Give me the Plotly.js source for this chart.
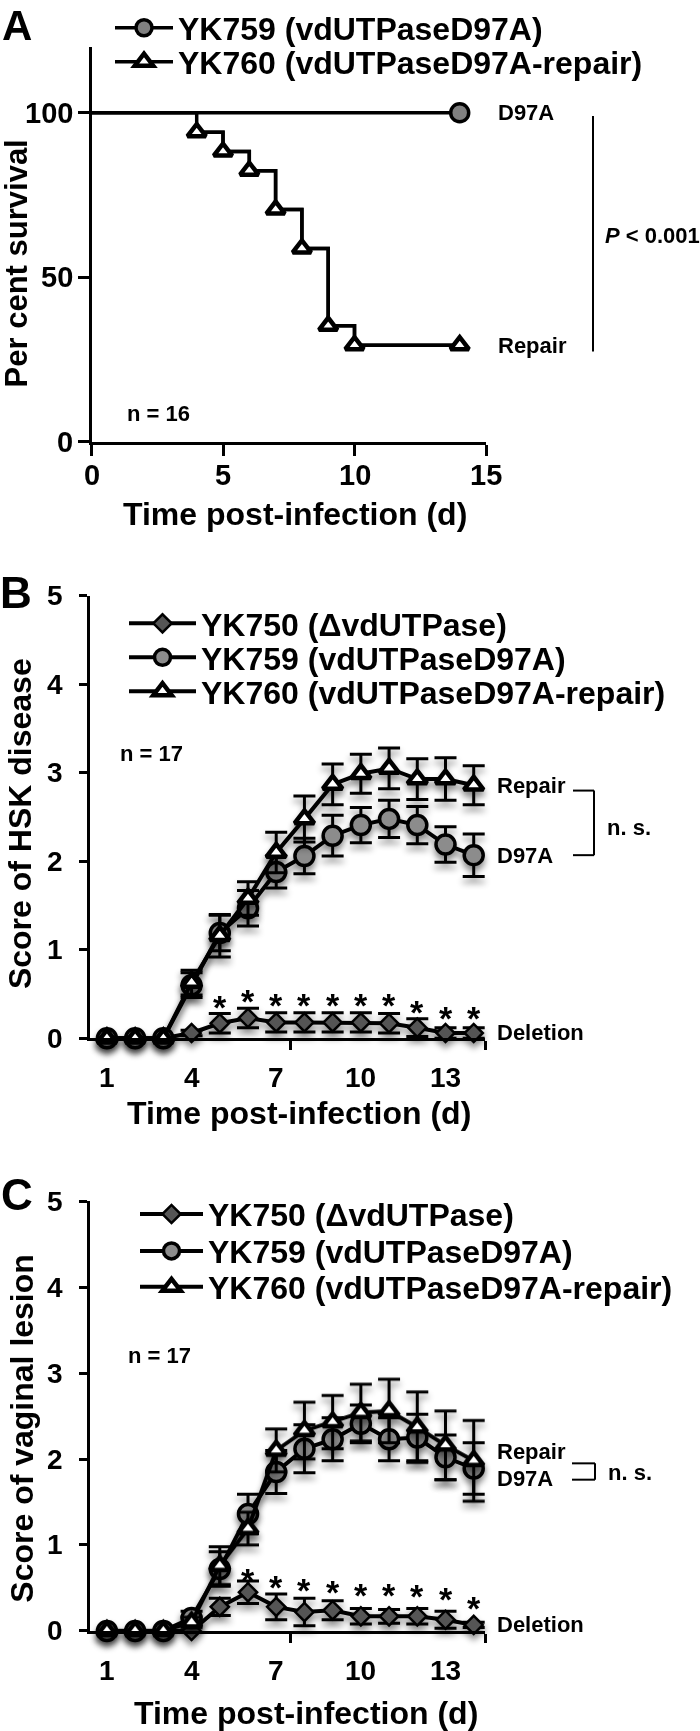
<!DOCTYPE html>
<html>
<head>
<meta charset="utf-8">
<script src="https://cdn.plot.ly/plotly-3.0.1.min.js"></script>
<style>
html,body{margin:0;padding:0;background:#fff;}
#chart{width:700px;height:1731px;}
.subplot.x2y2 .scatterlayer .trace, .subplot.x3y3 .scatterlayer .trace{filter:drop-shadow(0px 5px 3px rgba(0,0,0,0.45));}
</style>
</head>
<body>
<div id="chart"></div>
<script>
// ---------------- DATA ----------------
// Panel A: Kaplan-Meier survival (per cent)
const survRepairDays = [0, 4, 5, 6, 7, 8, 9, 10, 14];
const survRepair     = [100, 94.1, 88.2, 82.4, 70.6, 58.8, 35.3, 29.4, 29.4];
const survD97ADays   = [0, 14];
const survD97A       = [100, 100];
const survTickX      = [0, 5, 10, 15];
const survTickY      = [0, 50, 100];

// Panels B and C: days post-infection
const days = [1, 2, 3, 4, 5, 6, 7, 8, 9, 10, 11, 12, 13, 14];
const scoreTickX = [1, 4, 7, 10, 13];
const scoreTickY = [0, 1, 2, 3, 4, 5];

// Panel B: HSK disease score (mean, SEM)
const hskDeletion    = [0, 0, 0, 0.06, 0.17, 0.23, 0.18, 0.18, 0.18, 0.18, 0.17, 0.12, 0.06, 0.06];
const hskDeletionSem = [0, 0, 0, 0.03, 0.11, 0.11, 0.11, 0.11, 0.11, 0.11, 0.11, 0.10, 0.06, 0.06];
const hskD97A        = [0, 0, 0, 0.60, 1.19, 1.47, 1.88, 2.06, 2.29, 2.41, 2.48, 2.41, 2.19, 2.07];
const hskD97ASem     = [0, 0, 0, 0.14, 0.20, 0.20, 0.18, 0.20, 0.23, 0.20, 0.21, 0.21, 0.20, 0.24];
const hskRepair      = [0, 0, 0, 0.63, 1.16, 1.58, 2.10, 2.48, 2.87, 2.99, 3.05, 2.93, 2.93, 2.86];
const hskRepairSem   = [0, 0, 0, 0.14, 0.24, 0.19, 0.23, 0.26, 0.23, 0.22, 0.23, 0.23, 0.24, 0.22];
const hskStarDays    = [5, 6, 7, 8, 9, 10, 11, 12, 13, 14];
const hskStarY       = [0.44, 0.51, 0.47, 0.47, 0.47, 0.47, 0.47, 0.39, 0.32, 0.32];

// Panel C: vaginal lesion score (mean, SEM)
const vagDeletion    = [0, 0, 0, 0, 0.28, 0.45, 0.28, 0.22, 0.24, 0.17, 0.17, 0.17, 0.13, 0.07];
const vagDeletionSem = [0, 0, 0, 0, 0.10, 0.13, 0.15, 0.16, 0.11, 0.09, 0.08, 0.09, 0.10, 0.03];
const vagD97A        = [0, 0, 0, 0.15, 0.72, 1.36, 1.85, 2.12, 2.23, 2.41, 2.23, 2.25, 2.02, 1.89];
const vagD97ASem     = [0, 0, 0, 0.08, 0.20, 0.23, 0.25, 0.28, 0.25, 0.22, 0.25, 0.27, 0.26, 0.30];
const vagRepair      = [0, 0, 0, 0.10, 0.76, 1.19, 2.10, 2.33, 2.43, 2.54, 2.56, 2.37, 2.16, 1.98];
const vagRepairSem   = [0, 0, 0, 0.06, 0.22, 0.19, 0.25, 0.33, 0.31, 0.33, 0.37, 0.41, 0.40, 0.47];
const vagStarDays    = [6, 7, 8, 9, 10, 11, 12, 13, 14];
const vagStarY       = [0.69, 0.61, 0.57, 0.55, 0.51, 0.51, 0.50, 0.47, 0.36];

// Legend / label texts
const nameDeletion = 'YK750 (ΔvdUTPase)';
const nameD97A     = 'YK759 (vdUTPaseD97A)';
const nameRepair   = 'YK760 (vdUTPaseD97A-repair)';

// ---------------- STYLE HELPERS ----------------
const FONT = 'Liberation Sans, Arial, Helvetica, sans-serif';
const W = 700, H = 1731;
const px = x => x / W;
const py = y => 1 - y / H;
const errArr = a => a.map(v => v > 0 ? v : NaN);

const mkDel = {symbol: 'diamond', size: 14, color: '#555555', opacity: 1, line: {color: '#000', width: 2.5}};
const mkD97A = {symbol: 'circle', size: 19, color: '#8c8c8c', opacity: 1, line: {color: '#000', width: 3.5}};
const mkRep = {symbol: 'triangle-up', size: 17, color: '#ffffff', opacity: 1, line: {color: '#000', width: 4.5}};

function series(x, y, sem, name, marker, ax, legend) {
  return {
    type: 'scatter', mode: 'lines+markers', x: x, y: y, name: name,
    xaxis: 'x' + ax, yaxis: 'y' + ax, legend: legend, cliponaxis: false,
    line: {color: '#000', width: 4}, marker: marker,
    error_y: {type: 'data', array: errArr(sem), visible: true, color: '#000', thickness: 3, width: 11},
    hoverinfo: 'skip'
  };
}

const mkSurvCircle = {symbol: 'circle', size: 18, color: '#808080', opacity: 1, line: {color: '#000', width: 3.5}};
const mkSurvTri = {symbol: 'triangle-up', size: 16, color: '#ffffff', opacity: 1, line: {color: '#000', width: 4.5}};

const traces = [
  // Panel A: full step curves (no legend entry)
  {type: 'scatter', mode: 'lines', x: survD97ADays, y: survD97A, showlegend: false, cliponaxis: false,
   line: {color: '#000', width: 3.5}, hoverinfo: 'skip'},
  {type: 'scatter', mode: 'lines', x: survRepairDays, y: survRepair, showlegend: false, cliponaxis: false,
   line: {color: '#000', width: 3.5, shape: 'hv'}, hoverinfo: 'skip'},
  // Panel A: event / censor markers (carry the legend entries)
  {type: 'scatter', mode: 'lines+markers', x: survD97ADays.slice(1), y: survD97A.slice(1), name: nameD97A,
   legend: 'legend', cliponaxis: false, line: {color: '#000', width: 3.5}, marker: mkSurvCircle, hoverinfo: 'skip'},
  {type: 'scatter', mode: 'lines+markers', x: survRepairDays.slice(1), y: survRepair.slice(1), name: nameRepair,
   legend: 'legend2', cliponaxis: false, line: {color: '#000', width: 3.5, shape: 'hv'}, marker: mkSurvTri, hoverinfo: 'skip'},
  // Panel B
  series(days, hskDeletion, hskDeletionSem, nameDeletion, mkDel, 2, 'legend3'),
  series(days, hskD97A, hskD97ASem, nameD97A, mkD97A, 2, 'legend4'),
  series(days, hskRepair, hskRepairSem, nameRepair, mkRep, 2, 'legend5'),
  // Panel C
  series(days, vagDeletion, vagDeletionSem, nameDeletion, mkDel, 3, 'legend6'),
  series(days, vagD97A, vagD97ASem, nameD97A, mkD97A, 3, 'legend7'),
  series(days, vagRepair, vagRepairSem, nameRepair, mkRep, 3, 'legend8'),
];

function legendAt(left, rowY, size, itemwidth) {
  return {x: px(left), y: py(rowY), xanchor: 'left', yanchor: 'middle', bgcolor: 'rgba(0,0,0,0)',
          borderwidth: 0, font: {family: FONT, size: size, weight: 'bold', color: '#000'},
          itemwidth: itemwidth, itemclick: false, itemdoubleclick: false};
}

function axis(extra) {
  return Object.assign({showline: true, linewidth: 3, linecolor: '#000', showgrid: false, zeroline: false,
    tickcolor: '#000', tickwidth: 3, fixedrange: true, automargin: false, showticklabels: false}, extra);
}

function ann(text, x, y, size, opts) {
  return Object.assign({text: text, x: px(x), y: py(y), xref: 'paper', yref: 'paper', showarrow: false,
    xanchor: 'center', yanchor: 'middle', font: {family: FONT, size: size, weight: 'bold', color: '#000'}}, opts || {});
}
function dataLabel(text, x, yVal, ax, yshift) {
  return {text: text, x: px(x), y: yVal, xref: 'paper', yref: 'y' + ax, showarrow: false,
    xanchor: 'left', yanchor: 'middle', yshift: yshift || 0,
    font: {family: FONT, size: 22, weight: 'bold', color: '#000'}};
}
function stars(dayArr, yArr, ax) {
  return dayArr.map((d, i) => ({text: '*', x: d, y: yArr[i], xref: 'x' + ax, yref: 'y' + ax, showarrow: false,
    xanchor: 'center', yanchor: 'middle', yshift: -8, font: {family: FONT, size: 34, weight: 'bold', color: '#000'}}));
}
// tick labels placed through the axis scales
function xTickLabels(vals, ax, yPx, size) {
  return vals.map(v => ({text: String(v), x: v, xref: 'x' + ax, y: py(yPx), yref: 'paper', showarrow: false,
    xanchor: 'center', yanchor: 'middle', font: {family: FONT, size: size, weight: 'bold', color: '#000'}}));
}
function yTickLabels(vals, ax, xRightPx, size) {
  return vals.map(v => ({text: String(v), x: px(xRightPx), xref: 'paper', y: v, yref: 'y' + ax, showarrow: false,
    xanchor: 'right', yanchor: 'middle', font: {family: FONT, size: size, weight: 'bold', color: '#000'}}));
}
function line(x0, y0, x1, y1, yref) {
  return {type: 'line', xref: 'paper', yref: yref, x0: px(x0), x1: px(x1), y0: y0, y1: y1,
          line: {color: '#000', width: 2}};
}

const last = a => a[a.length - 1];

const layout = {
  width: W, height: H, margin: {l: 0, r: 0, t: 0, b: 0},
  paper_bgcolor: '#fff', plot_bgcolor: 'rgba(0,0,0,0)',
  font: {family: FONT, size: 27, weight: 'bold', color: '#000'},
  // Panel A axes
  xaxis: axis({domain: [px(91.5), px(486)], range: [0, 15], tickvals: survTickX,
          ticks: 'outside', ticklen: 11, anchor: 'y'}),
  yaxis: axis({domain: [py(439), py(43)], range: [0, 120], tickvals: survTickY,
          ticks: 'outside', ticklen: 11, anchor: 'x'}),
  // Panel B axes
  xaxis2: axis({domain: [px(90), px(485)], range: [0.4, 14.4], tickvals: scoreTickX,
          ticks: '', ticklen: 0, anchor: 'y2',
          minor: {tickvals: [7.5, 14.4], ticks: 'outside', ticklen: 9, tickwidth: 3, tickcolor: '#000'}}),
  yaxis2: axis({domain: [py(1036.7), py(593.3)], range: [0, 5], tickvals: scoreTickY,
          ticks: 'outside', ticklen: 8, anchor: 'x2'}),
  // Panel C axes
  xaxis3: axis({domain: [px(90), px(485)], range: [0.4, 14.4], tickvals: scoreTickX,
          ticks: '', ticklen: 0, anchor: 'y3',
          minor: {tickvals: [7.5, 14.4], ticks: 'outside', ticklen: 9, tickwidth: 3, tickcolor: '#000'}}),
  yaxis3: axis({domain: [py(1630.7), py(1200)], range: [0, 5], tickvals: scoreTickY,
          ticks: 'outside', ticklen: 8, anchor: 'x3'}),
  // legends, one per series
  legend:  legendAt(110, 24, 32, 58),
  legend2: legendAt(110, 58, 32, 58),
  legend3: legendAt(124, 621, 32, 67),
  legend4: legendAt(124, 655, 32, 67),
  legend5: legendAt(124, 689, 32, 67),
  legend6: legendAt(135, 1213, 32, 63),
  legend7: legendAt(135, 1250, 32, 63),
  legend8: legendAt(135, 1286, 32, 63),
  annotations: [
    ann('A', 17, 22, 42), ann('B', 16, 590, 44), ann('C', 17, 1193, 44),
    // axis titles
    ann('Per cent survival', 16, 260, 31, {textangle: -90}),
    ann('Time post-infection (d)', 295, 511, 32),
    ann('Score of HSK disease', 20, 822, 32, {textangle: -90}),
    ann('Time post-infection (d)', 299, 1112, 32),
    ann('Score of vaginal lesion', 22, 1428, 32, {textangle: -90}),
    ann('Time post-infection (d)', 306, 1713, 32),
    // panel A labels
    dataLabel('D97A', 496, last(survD97A), '', 0),
    dataLabel('Repair', 496, last(survRepair), '', 0),
    ann('<i>P</i> &lt; 0.001', 603, 232, 22, {xanchor: 'left'}),
    ann('n = 16', 125, 410, 22, {xanchor: 'left'}),
    // panel B labels
    dataLabel('Repair', 495, last(hskRepair), 2, 0),
    dataLabel('D97A', 495, last(hskD97A), 2, 0),
    dataLabel('Deletion', 495, last(hskDeletion), 2, 0),
    ann('n. s.', 605, 825, 22, {xanchor: 'left'}),
    ann('n = 17', 118, 751, 22, {xanchor: 'left'}),
    // panel C labels
    dataLabel('Repair', 495, last(vagRepair), 3, 9),
    dataLabel('D97A', 495, last(vagD97A), 3, -10),
    dataLabel('Deletion', 495, last(vagDeletion), 3, 0),
    ann('n. s.', 606, 1472, 22, {xanchor: 'left'}),
    ann('n = 17', 126, 1355, 22, {xanchor: 'left'}),
  ].concat(
    xTickLabels(survTickX, '', 472, 29), yTickLabels(survTickY, '', 75, 29),
    xTickLabels(scoreTickX, 2, 1076, 28), yTickLabels(scoreTickY, 2, 65, 28),
    xTickLabels(scoreTickX, 3, 1670, 28), yTickLabels(scoreTickY, 3, 65, 28),
    stars(hskStarDays, hskStarY, 2), stars(vagStarDays, vagStarY, 3)),
  shapes: [
    // P-value bar in panel A
    line(593, 27.5, 593, 99, 'y'),
    // n.s. bracket panel B
    line(573, 2.80, 594, 2.80, 'y2'), line(594, 2.80, 594, 2.07, 'y2'), line(573, 2.07, 594, 2.07, 'y2'),
    // n.s. bracket panel C
    line(572, 1.95, 595, 1.95, 'y3'), line(595, 1.95, 595, 1.76, 'y3'), line(572, 1.76, 595, 1.76, 'y3'),
  ],
  showlegend: true
};

Plotly.newPlot('chart', traces, layout, {displayModeBar: false, staticPlot: true});
</script>
</body>
</html>
